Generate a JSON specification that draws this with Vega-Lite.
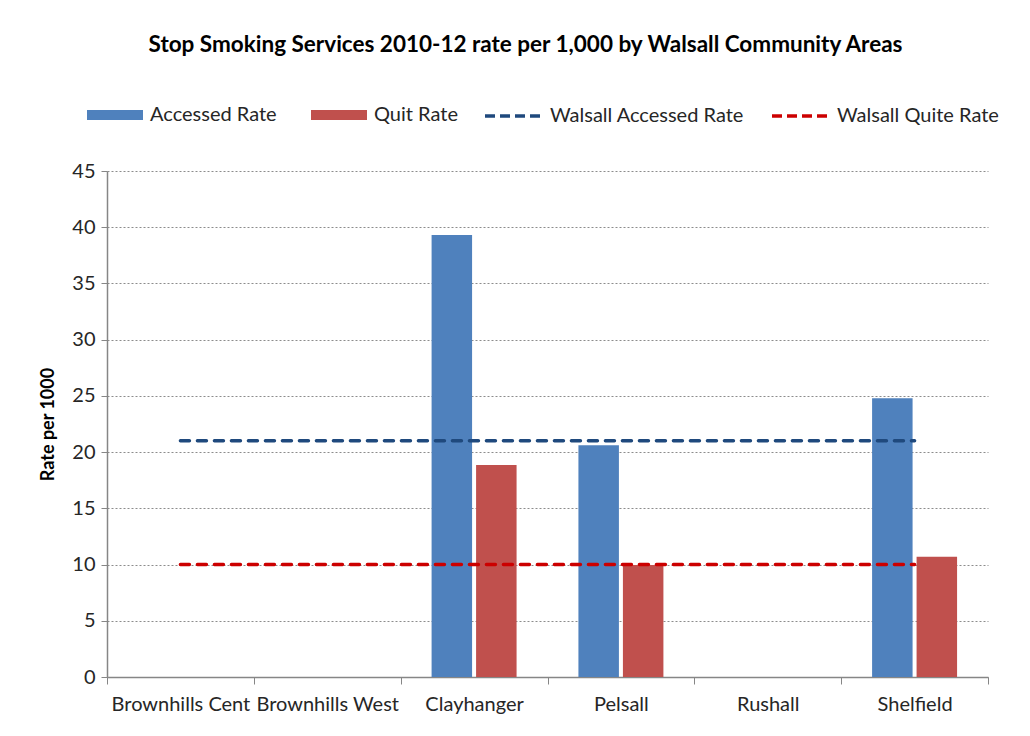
{
  "$schema": "https://vega.github.io/schema/vega-lite/v6.json",
  "autosize": {"type": "none"},
  "padding": {"left": 107, "top": 171, "right": 42, "bottom": 59},
  "width": 881,
  "height": 506,
  "background": "white",
  "title": {
    "text": "Stop Smoking Services 2010-12 rate per 1,000 by Walsall Community Areas",
    "font": "Lato",
    "fontSize": 22.5,
    "fontWeight": "bold",
    "color": "#000000",
    "anchor": "middle",
    "dx": -22,
    "offset": 30
  },
  "datasets": {
    "bars": [
      {"area": "Brownhills Cent", "measure": "Accessed Rate", "value": 0},
      {"area": "Brownhills Cent", "measure": "Quit Rate", "value": 0},
      {"area": "Brownhills West", "measure": "Accessed Rate", "value": 0},
      {"area": "Brownhills West", "measure": "Quit Rate", "value": 0},
      {"area": "Clayhanger", "measure": "Accessed Rate", "value": 39.3},
      {"area": "Clayhanger", "measure": "Quit Rate", "value": 18.85},
      {"area": "Pelsall", "measure": "Accessed Rate", "value": 20.6},
      {"area": "Pelsall", "measure": "Quit Rate", "value": 9.95},
      {"area": "Rushall", "measure": "Accessed Rate", "value": 0},
      {"area": "Rushall", "measure": "Quit Rate", "value": 0},
      {"area": "Shelfield", "measure": "Accessed Rate", "value": 24.8},
      {"area": "Shelfield", "measure": "Quit Rate", "value": 10.7}
    ],
    "lines": [
      {"area": "Brownhills Cent", "series": "Walsall Accessed Rate", "value": 21.0},
      {"area": "Brownhills West", "series": "Walsall Accessed Rate", "value": 21.0},
      {"area": "Clayhanger", "series": "Walsall Accessed Rate", "value": 21.0},
      {"area": "Pelsall", "series": "Walsall Accessed Rate", "value": 21.0},
      {"area": "Rushall", "series": "Walsall Accessed Rate", "value": 21.0},
      {"area": "Shelfield", "series": "Walsall Accessed Rate", "value": 21.0},
      {"area": "Brownhills Cent", "series": "Walsall Quite Rate", "value": 10.0},
      {"area": "Brownhills West", "series": "Walsall Quite Rate", "value": 10.0},
      {"area": "Clayhanger", "series": "Walsall Quite Rate", "value": 10.0},
      {"area": "Pelsall", "series": "Walsall Quite Rate", "value": 10.0},
      {"area": "Rushall", "series": "Walsall Quite Rate", "value": 10.0},
      {"area": "Shelfield", "series": "Walsall Quite Rate", "value": 10.0}
    ]
  },
  "encoding": {
    "x": {
      "field": "area",
      "type": "nominal",
      "sort": ["Brownhills Cent", "Brownhills West", "Clayhanger", "Pelsall", "Rushall", "Shelfield"],
      "scale": {"paddingInner": 0, "paddingOuter": 0},
      "axis": {
        "title": null,
        "labelAngle": 0,
        "labelFont": "Lato",
        "labelFontSize": 20,
        "labelColor": "#262626",
        "labelPadding": 10,
        "labelOverlap": false,
        "labelLimit": 0,
        "tickBand": "extent",
        "tickSize": 7,
        "tickColor": "#868686",
        "domainColor": "#868686",
        "domainWidth": 1.5
      }
    },
    "y": {
      "field": "value",
      "type": "quantitative",
      "scale": {"domain": [0, 45], "nice": false},
      "axis": {
        "title": "Rate per 1000",
        "titleFont": "Lato",
        "titleFontSize": 18,
        "titleFontWeight": "bold",
        "titleColor": "#000000",
        "titlePadding": 14,
        "values": [0, 5, 10, 15, 20, 25, 30, 35, 40, 45],
        "labelFont": "Lato",
        "labelFontSize": 20,
        "labelColor": "#262626",
        "labelPadding": 6,
        "tickSize": 6,
        "tickColor": "#868686",
        "domainColor": "#868686",
        "domainWidth": 1.5,
        "grid": true,
        "gridColor": "#8c8c8c",
        "gridDash": [2, 2],
        "gridWidth": 1
      }
    }
  },
  "layer": [
    {
      "data": {"name": "bars"},
      "mark": {"type": "bar"},
      "encoding": {
        "xOffset": {
          "field": "measure",
          "type": "nominal",
          "scale": {"paddingInner": 0.09, "paddingOuter": 0.695}
        },
        "fill": {
          "field": "measure",
          "type": "nominal",
          "scale": {"domain": ["Accessed Rate", "Quit Rate"], "range": ["#4F81BD", "#C0504D"]},
          "legend": {
            "title": null,
            "orient": "none",
            "direction": "horizontal",
            "legendX": -20,
            "legendY": -84,
            "symbolType": "M-1,-0.18H1V0.18H-1Z",
            "symbolSize": 3136,
            "symbolStrokeWidth": 0,
            "labelFont": "Lato",
            "labelFontSize": 20,
            "labelColor": "#262626",
            "labelOffset": 7,
            "labelLimit": 0,
            "columnPadding": 34
          }
        }
      }
    },
    {
      "data": {"name": "lines"},
      "mark": {"type": "line", "strokeWidth": 3.5, "strokeDash": [9, 8], "strokeCap": "round"},
      "encoding": {
        "detail": {"field": "series", "type": "nominal"},
        "stroke": {
          "field": "series",
          "type": "nominal",
          "scale": {"domain": ["Walsall Accessed Rate", "Walsall Quite Rate"], "range": ["#1F497D", "#CC0000"]},
          "legend": {
            "title": null,
            "orient": "none",
            "direction": "horizontal",
            "legendX": 376,
            "legendY": -85,
            "symbolType": "stroke",
            "symbolSize": 3136,
            "symbolStrokeWidth": 3.5,
            "symbolDash": [10, 5],
            "labelFont": "Lato",
            "labelFontSize": 20,
            "labelColor": "#262626",
            "labelOffset": 7,
            "labelLimit": 0,
            "columnPadding": 20
          }
        }
      }
    }
  ],
  "config": {
    "view": {"stroke": null}
  }
}
